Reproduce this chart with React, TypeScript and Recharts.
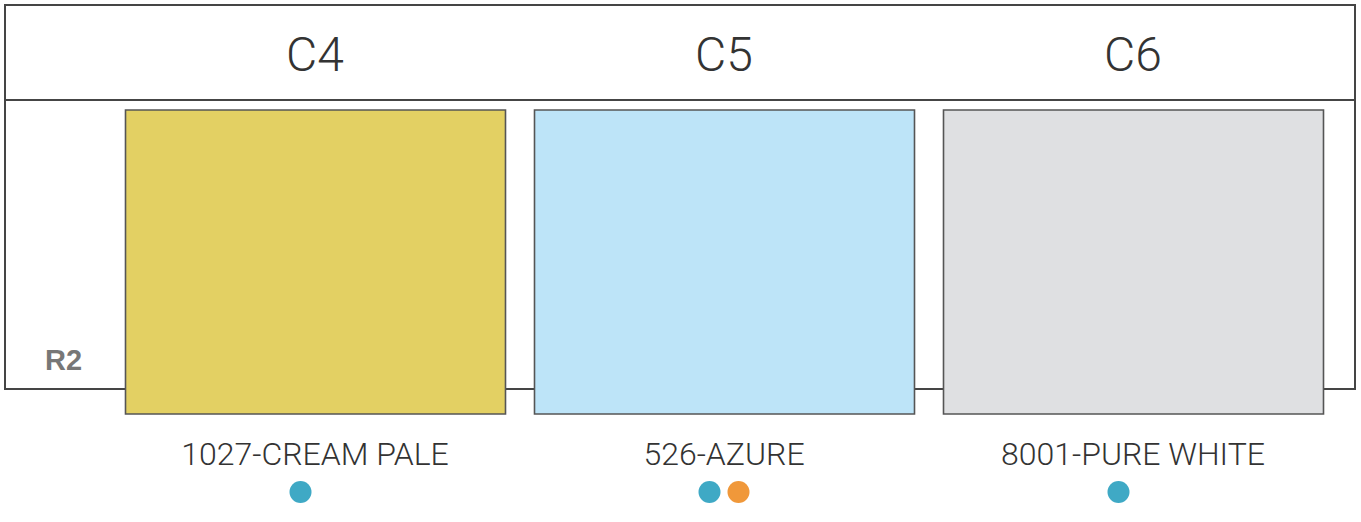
import React from 'react';
import { BarChart, Bar, XAxis, YAxis, Cell } from 'recharts';

const columns = ['C4', 'C5', 'C6'];
const colorNames = ['1027-CREAM PALE', '526-AZURE', '8001-PURE WHITE'];
const swatchFills = ['#E3D063', '#BDE4F8', '#DFE0E2'];
const swatchValues = [1, 1, 1];
const availability = [['#3FA9C5'], ['#3FA9C5', '#F0983A'], ['#3FA9C5']];
const rowLabel = 'R2';

const data = columns.map((col, i) => ({
  col,
  name: colorNames[i],
  value: swatchValues[i],
  fill: swatchFills[i],
  dots: availability[i],
}));

const TopTick = ({ x, payload }: any) => (
  <text
    x={x}
    y={71}
    textAnchor="middle"
    fontFamily="Roboto, 'Liberation Sans', sans-serif"
    fontWeight={300}
    fontSize={48}
    fill="#333"
  >
    {payload.value}
  </text>
);

// dots sit in two fixed slots, the first slot left of centre
const BottomTick = ({ x, y, index }: any) => {
  const item = data[index];
  if (!item) return null;
  const step = 29;
  const start = x - step / 2;
  return (
    <g>
      <text
        x={x}
        y={y + 43}
        textAnchor="middle"
        fontFamily="Roboto, 'Liberation Sans', sans-serif"
        fontWeight={300}
        fontSize={32}
        fill="#333"
      >
        {item.name}
      </text>
      {item.dots.map((c: string, k: number) => (
        <circle key={k} cx={start + k * step} cy={y + 70} r={11} fill={c} />
      ))}
    </g>
  );
};

export default function App() {
  return (
    <div style={{ position: 'absolute', left: 0, top: 0, width: 1361, height: 522, background: '#fff' }}>
      {/* frame behind the swatches */}
      <div
        style={{
          position: 'absolute',
          left: 4,
          top: 4,
          width: 1348,
          height: 382,
          border: '2px solid #454545',
        }}
      />
      <div style={{ position: 'absolute', left: 4, top: 99, width: 1350, height: 0, borderTop: '2px solid #454545' }} />
      <div
        style={{
          position: 'absolute',
          left: 45,
          top: 340,
          fontFamily: "'Liberation Sans', Arial, sans-serif",
          fontWeight: 700,
          fontSize: 29,
          color: '#777',
          lineHeight: '40px',
        }}
      >
        {rowLabel}
      </div>
      <div style={{ position: 'absolute', left: 0, top: 0 }}>
        <BarChart
          width={1361}
          height={522}
          data={data}
          margin={{ top: 0, right: 23.5, bottom: 0, left: 110.5 }}
        >
          <XAxis
            xAxisId="top"
            dataKey="col"
            orientation="top"
            height={110}
            axisLine={false}
            tickLine={false}
            tick={<TopTick />}
            interval={0}
          />
          <XAxis
            xAxisId="bottom"
            dataKey="name"
            orientation="bottom"
            height={108}
            axisLine={false}
            tickLine={false}
            tick={<BottomTick />}
            interval={0}
          />
          <YAxis hide domain={[0, 1]} />
          <Bar
            xAxisId="bottom"
            dataKey="value"
            barSize={380}
            stroke="#555"
            strokeWidth={1.6}
            isAnimationActive={false}
          >
            {data.map((d, i) => (
              <Cell key={i} fill={d.fill} />
            ))}
          </Bar>
        </BarChart>
      </div>
    </div>
  );
}
